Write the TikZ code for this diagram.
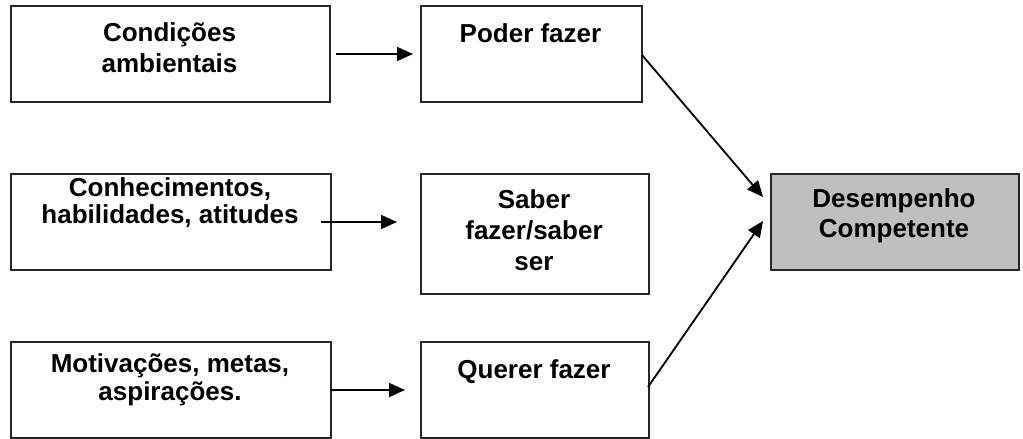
\documentclass[tikz,border=0pt]{standalone}
\usepackage{fontspec}
\setmainfont{Liberation Sans}
\usetikzlibrary{arrows.meta}

\tikzset{
  box/.style={draw=black!85, line width=1.8pt, rectangle, inner sep=0pt, anchor=north west},
  hot/.style={box, fill=black!25},
  lbl/.style={font=\bfseries\fontsize{26}{30}\selectfont, anchor=base, inner sep=0pt},
  link/.style={line width=1.8pt, -{Triangle[length=16pt,width=14pt]}},
}

\begin{document}
\begin{tikzpicture}[x=1pt, y=-1pt]
  \useasboundingbox (0,0) rectangle (1023,439);

  % left column: sources
  \node[box, minimum width=319pt, minimum height=96pt] (cond) at (10,5) {};
  \node[box, minimum width=320pt, minimum height=96pt] (conh) at (10,173) {};
  \node[box, minimum width=320pt, minimum height=96pt] (moti) at (10,341) {};

  % middle column
  \node[box, minimum width=221pt, minimum height=96pt] (poder) at (420,5) {};
  \node[box, minimum width=228pt, minimum height=120pt] (saber) at (420,173) {};
  \node[box, minimum width=228pt, minimum height=96pt] (querer) at (420,341) {};

  % result
  \node[hot, minimum width=248pt, minimum height=96pt] (desemp) at (770,173) {};

  % labels
  \node[lbl] (t1) at (169.5,41) {Condições};
  \node[lbl] (t2) at (169.5,72) {ambientais};
  \node[lbl] (t3) at (170,196) {Conhecimentos,};
  \node[lbl] (t4) at (170,223) {habilidades, atitudes};
  \node[lbl] (t5) at (170,372) {Motivações, metas,};
  \node[lbl] (t6) at (170,400) {aspirações.};
  \node[lbl] (t7) at (530.5,42) {Poder fazer};
  \node[lbl] (t8) at (534,208) {Saber};
  \node[lbl] (t9) at (534,239) {fazer/saber};
  \node[lbl] (t10) at (534,270) {ser};
  \node[lbl] (t11) at (534,378) {Querer fazer};
  \node[lbl] (t12) at (894,207) {Desempenho};
  \node[lbl] (t13) at (894,237) {Competente};

  % free ends of the connectors
  \coordinate (a1s) at (336,54);
  \coordinate (a1e) at (413,54);
  \coordinate (a2s) at (321,222);
  \coordinate (a2e) at (397,222);
  \coordinate (a3s) at (330,390);
  \coordinate (a3e) at (405,390);
  \coordinate (d1s) at (642,55);
  \coordinate (d1e) at (763,197);
  \coordinate (d2s) at (648,387);
  \coordinate (d2e) at (763,221);

  \draw[link] (a1s) -- (a1e);
  \draw[link] (a2s) -- (a2e);
  \draw[link] (a3s) -- (a3e);
  \draw[link] (d1s) -- (d1e);
  \draw[link] (d2s) -- (d2e);
\end{tikzpicture}
\end{document}
